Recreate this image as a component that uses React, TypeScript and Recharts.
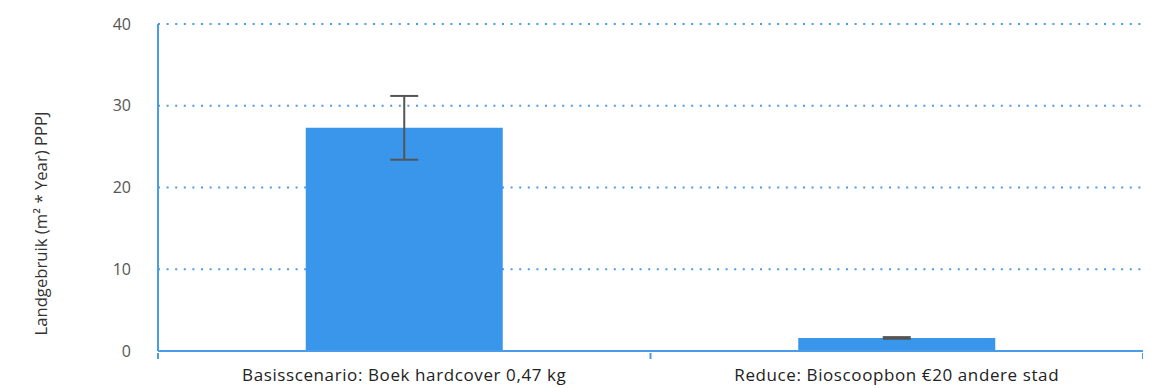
import React from 'react';
import {
  BarChart, Bar, XAxis, YAxis, CartesianGrid, ErrorBar, Label
} from 'recharts';

const categories = ['Basisscenario: Boek hardcover 0,47 kg', 'Reduce: Bioscoopbon €20 andere stad'];
const landUse = [27.3, 1.6];
const landUseError = [3.9, 0.1];
const yTicks = [0, 10, 20, 30, 40];

const data = categories.map((name, i) => ({
  name,
  value: landUse[i],
  err: landUseError[i],
}));

const BLUE = '#3996ea';
const AXIS = '#4a9be9';
const FONT = '"Open Sans", sans-serif';

const YLabel = (props: any) => {
  const { viewBox } = props;
  const x = viewBox.x + 32;
  const y = viewBox.y + viewBox.height / 2 + 36;
  return (
    <text x={x} y={y} transform={`rotate(-90, ${x}, ${y})`} textAnchor="middle"
      dominantBaseline="central" fontSize={16.7} fill="#333" fontFamily={FONT}>
      Landgebruik (m² * Year) PPPJ
    </text>
  );
};

// category tick: label centred in the band, tick marks at the band edges
const EdgeTick = (props: any) => {
  const { x, y, payload, index, width, visibleTicksCount } = props;
  const half = width / visibleTicksCount / 2;
  const top = y - 16;
  return (
    <g>
      <line x1={x - half} y1={top} x2={x - half} y2={top + 6} stroke={AXIS} strokeWidth={2} />
      {index === visibleTicksCount - 1 && (
        <line x1={x + half} y1={top} x2={x + half} y2={top + 6} stroke={AXIS} strokeWidth={2} />
      )}
      <text x={x} y={y} dy="0.71em" textAnchor="middle" fill="#222" fontSize={17}
        letterSpacing={0.6} fontFamily={FONT}>
        {payload.value}
      </text>
    </g>
  );
};

export default function App() {
  return (
    <div style={{ width: 1143, height: 380 }}>
      <BarChart
        width={1143}
        height={380}
        data={data}
        margin={{ top: 16, right: 8, left: 0, bottom: 7 }}
        barCategoryGap="30%"
      >
        <CartesianGrid vertical={false} stroke={AXIS} strokeDasharray="2 6.6" strokeWidth={2} />
        <XAxis
          dataKey="name"
          height={30}
          axisLine={{ stroke: AXIS, strokeWidth: 2 }}
          tickLine={false}
          tickSize={0}
          tickMargin={18}
          tick={<EdgeTick />}
        />
        <YAxis
          width={150}
          domain={[0, 40]}
          ticks={yTicks}
          tickLine={false}
          tickSize={0}
          tickMargin={27}
          axisLine={{ stroke: AXIS, strokeWidth: 2 }}
          tick={{ fill: '#555', fontSize: 16, fontFamily: FONT }}
        >
          <Label content={<YLabel />} />
        </YAxis>
        <Bar dataKey="value" fill={BLUE} isAnimationActive={false}>
          <ErrorBar dataKey="err" width={14} stroke="#555" strokeWidth={2} />
        </Bar>
      </BarChart>
    </div>
  );
}
